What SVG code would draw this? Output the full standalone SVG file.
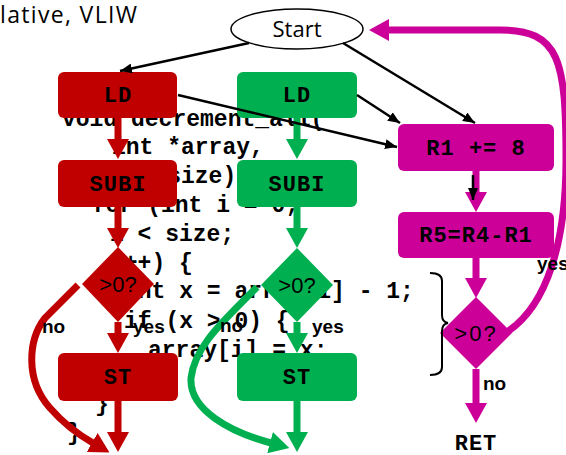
<svg xmlns="http://www.w3.org/2000/svg" width="566" height="455" viewBox="0 0 566 455">
  <style>
    .code { font-family: "Liberation Mono", "Courier New", monospace; font-weight: bold; font-size: 23px; fill: #000; }
    .op { font-family: "Liberation Mono", "Courier New", monospace; font-weight: bold; font-size: 22px; fill: #000; text-anchor: middle; letter-spacing: 1px; }
    .cond { font-family: "Liberation Sans", Arial, sans-serif; font-size: 22px; fill: #000; text-anchor: middle; }
    .lbl { font-family: "Liberation Sans", Arial, sans-serif; font-weight: bold; font-size: 19px; fill: #000; }
    .red { fill: #C00000; }
    .grn { fill: #00B050; }
    .pur { fill: #CC0099; }
    .thin { stroke: #000; stroke-width: 2.5; fill: none; marker-end: url(#blk); }
    .sr { stroke: #C00000; stroke-width: 7; fill: none; marker-end: url(#hr); }
    .sg { stroke: #00B050; stroke-width: 7; fill: none; marker-end: url(#hg); }
    .sp { stroke: #CC0099; stroke-width: 7; fill: none; marker-end: url(#hp); }
  </style>
  <defs>
    <marker id="blk" markerUnits="userSpaceOnUse" viewBox="0 0 12 10" markerWidth="12" markerHeight="10" refX="12" refY="5" orient="auto">
      <path d="M0,0 L12,5 L0,10 z" fill="#000"/>
    </marker>
    <marker id="hr" markerUnits="userSpaceOnUse" viewBox="0 0 20 22" markerWidth="20" markerHeight="22" refX="1" refY="11" orient="auto">
      <path d="M0,0 L20,11 L0,22 z" fill="#C00000"/>
    </marker>
    <marker id="hg" markerUnits="userSpaceOnUse" viewBox="0 0 20 22" markerWidth="20" markerHeight="22" refX="1" refY="11" orient="auto">
      <path d="M0,0 L20,11 L0,22 z" fill="#00B050"/>
    </marker>
    <marker id="hp" markerUnits="userSpaceOnUse" viewBox="0 0 20 22" markerWidth="20" markerHeight="22" refX="1" refY="11" orient="auto">
      <path d="M0,0 L20,11 L0,22 z" fill="#CC0099"/>
    </marker>
  </defs>

  <rect width="566" height="455" fill="#fff"/>

  <!-- slide title fragment -->
  <text x="0" y="23" font-family="'Open Sans', 'Liberation Sans', sans-serif" font-size="23" textLength="137" fill="#000">lative, VLIW</text>

  <!-- source code listing -->
  <g id="code">
    <text class="code" x="62" y="126">void decrement_all(</text>
    <text class="code" x="112" y="154">int *array,</text>
    <text class="code" x="112" y="183">int size)</text>
    <text class="code" x="92" y="212">for (int i = 0;</text>
    <text class="code" x="110" y="241">i &lt; size;</text>
    <text class="code" x="110" y="270">i++) {</text>
    <text class="code" x="124" y="298">int x = array[i] - 1;</text>
    <text class="code" x="124" y="328">if (x &gt; 0) {</text>
    <text class="code" x="148" y="357">array[i] = x;</text>
    <text class="code" x="95" y="411">}</text>
    <text class="code" x="67" y="440">}</text>
  </g>

  <!-- entry -->
  <g id="start">
    <ellipse cx="297" cy="29" rx="66" ry="20" fill="#fff" stroke="#000" stroke-width="1.5"/>
    <text x="297" y="37" font-family="'Open Sans', 'Liberation Sans', sans-serif" font-size="22" text-anchor="middle" fill="#000">Start</text>
  </g>

  <!-- red iteration -->
  <g id="ld-red">
    <rect class="red" x="58" y="72" width="119" height="46" rx="6"/>
    <text class="op" x="118" y="102">LD</text>
  </g>
  <g id="subi-red">
    <rect class="red" x="58" y="160" width="119" height="47" rx="6"/>
    <text class="op" x="118" y="191">SUBI</text>
  </g>
  <g id="test-red">
    <polygon class="red" points="118,247 154,284 118,322 82,284"/>
    <text class="cond" x="118" y="292">&gt;0?</text>
  </g>
  <g id="st-red">
    <rect class="red" x="58" y="353" width="120" height="48" rx="6"/>
    <text class="op" x="118" y="384">ST</text>
  </g>

  <!-- green iteration -->
  <g id="ld-green">
    <rect class="grn" x="237" y="72" width="120" height="46" rx="6"/>
    <text class="op" x="297" y="102">LD</text>
  </g>
  <g id="subi-green">
    <rect class="grn" x="237" y="160" width="120" height="47" rx="6"/>
    <text class="op" x="297" y="191">SUBI</text>
  </g>
  <g id="test-green">
    <polygon class="grn" points="297,248 333,285 297,322 261,285"/>
    <text class="cond" x="297" y="293">&gt;0?</text>
  </g>
  <g id="st-green">
    <rect class="grn" x="237" y="353" width="120" height="48" rx="6"/>
    <text class="op" x="297" y="384">ST</text>
  </g>

  <!-- loop control -->
  <g id="inc">
    <rect class="pur" x="398" y="124" width="156" height="47" rx="6"/>
    <text class="op" x="476" y="155">R1 += 8</text>
  </g>
  <g id="sub">
    <rect class="pur" x="398" y="212" width="156" height="46" rx="6"/>
    <text class="op" x="476" y="242">R5=R4-R1</text>
  </g>
  <g id="test-loop">
    <polygon class="pur" points="476,297 512,333 476,369 440,333"/>
    <text class="cond" x="476" y="341" letter-spacing="2">&gt;0?</text>
  </g>
  <g id="ret">
    <text class="op" x="476" y="450">RET</text>
  </g>

  <!-- brace grouping the loop test -->
  <path d="M430,273 Q442,273 442,281 L442,315 Q442,322 448,323 Q442,324 442,331 L442,367 Q442,375 430,375" fill="none" stroke="#000" stroke-width="2"/>

  <!-- connectors -->
  <g id="edges">
    <path class="sr" d="M118,118 L118,140"/>
    <path class="sr" d="M118,207 L118,229"/>
    <path class="sr" d="M118,322 L118,334"/>
    <path class="sr" d="M118,401 L118,433"/>
    <path class="sr" d="M78,285 L45,318 C28,340 25,380 50,408 C64,424 79,435 93,443"/>

    <path class="sg" d="M297,118 L297,140"/>
    <path class="sg" d="M297,207 L297,229"/>
    <path class="sg" d="M297,322 L297,334"/>
    <path class="sg" d="M297,401 L297,433"/>
    <path class="sg" d="M257,287 C225,320 195,345 191,378 C189,410 230,432 271,443"/>

    <path class="sp" d="M476,171 L476,193"/>
    <path class="sp" d="M476,258 L476,279"/>
    <path class="sp" d="M476,369 L476,404"/>
    <path class="sp" stroke-width="6" d="M507,332 C548,305 566,240 566,160 C566,60 560,30 500,30 L388,30"/>

    <path class="thin" d="M249,43 L120,71"/>
    <path class="thin" d="M343,43 L475,123"/>
    <path class="thin" d="M357,95 L400,123"/>
    <path class="thin" d="M178,95 L397,147"/>
    <path class="thin" stroke-width="3" d="M473,175 L473,200"/>

    <text class="lbl" x="42" y="333">no</text>
    <text class="lbl" x="133" y="333">yes</text>
    <text class="lbl" x="220" y="332">no</text>
    <text class="lbl" x="312" y="333">yes</text>
    <text class="lbl" x="537" y="270">yes</text>
    <text class="lbl" x="483" y="390">no</text>
  </g>
</svg>
